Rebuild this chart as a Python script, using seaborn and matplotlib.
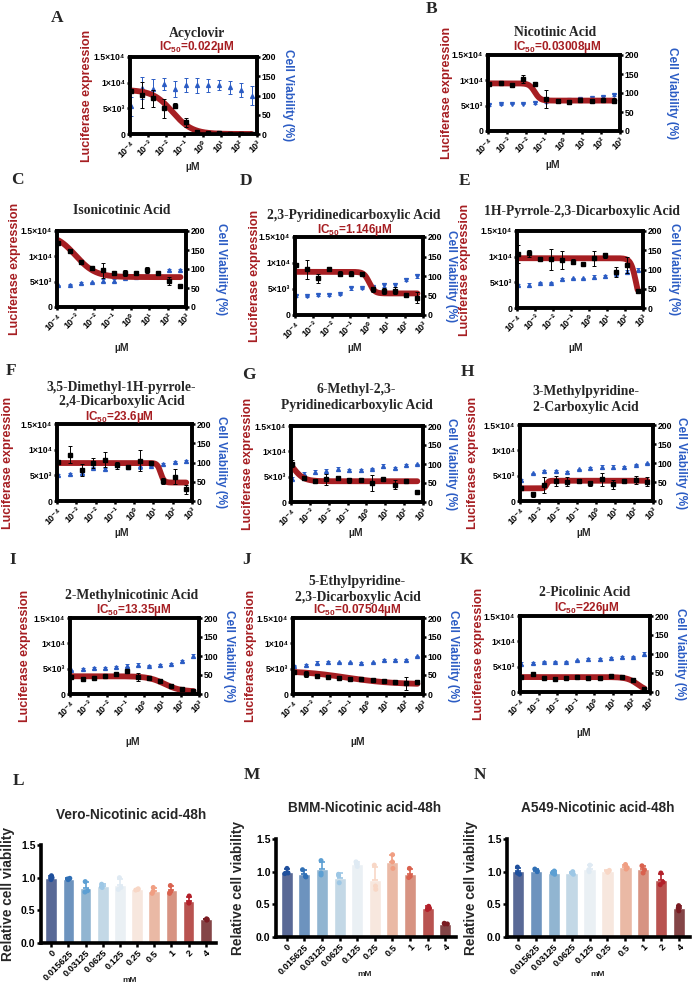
import numpy as np
import pandas as pd
import matplotlib
matplotlib.use("Agg")
import matplotlib.pyplot as plt
from matplotlib.ticker import NullLocator
import seaborn as sns

sns.set_theme(style="ticks")
plt.rcParams["font.family"] = ["Liberation Sans", "DejaVu Sans"]
plt.rcParams["font.weight"] = "bold"
plt.rcParams["mathtext.default"] = "regular"

W, H = 692, 986
RED = "#a61e22"
BLUE = "#2b5cc4"
SERIF = ["Liberation Serif", "DejaVu Serif"]

# dose-response: 4-fold dilution series (uM)
conc = [0.000119, 0.000477, 0.00191, 0.00763, 0.0305, 0.122, 0.488, 1.95, 7.81, 31.25, 125, 500]
x_ticks = [1e-4, 1e-3, 1e-2, 1e-1, 1e0, 1e1, 1e2, 1e3]
x_ticklabels = ["10⁻⁴", "10⁻³", "10⁻²", "10⁻¹", "10⁰", "10¹", "10²", "10³"]
luc_ticks = [0, 5000, 10000, 15000]
luc_ticklabels = ["0", "5×10³", "1×10⁴", "1.5×10⁴"]
via_ticks = [0, 50, 100, 150, 200]

titles = {
    "A": ["Acyclovir"], "B": ["Nicotinic Acid"], "C": ["Isonicotinic Acid"],
    "D": ["2,3-Pyridinedicarboxylic Acid"], "E": ["1H-Pyrrole-2,3-Dicarboxylic Acid"],
    "F": ["3,5-Dimethyl-1H-pyrrole-", "2,4-Dicarboxylic Acid"],
    "G": ["6-Methyl-2,3-", "Pyridinedicarboxylic Acid"],
    "H": ["3-Methylpyridine-", "2-Carboxylic Acid"],
    "I": ["2-Methylnicotinic Acid"],
    "J": ["5-Ethylpyridine-", "2,3-Dicarboxylic Acid"],
    "K": ["2-Picolinic Acid"],
}
ic50 = {"A": "0.022", "B": "0.03008", "D": "1.146", "F": "23.6", "I": "13.35", "J": "0.07504", "K": "226"}

luc_mean = {
    "A": [8400, 7600, 6950, 5000, 5470, 2250, 300, 150, 100, 50, 0, 0],
    "B": [9200, 9500, 9000, 10300, 9300, 6300, 6000, 5700, 6100, 6000, 6200, 6000],
    "C": [12700, 11060, 8940, 7750, 7280, 6620, 6620, 6620, 7280, 6750, 5100, 4170],
    "D": [9700, 8800, 7020, 8800, 7980, 7980, 7980, 4910, 4660, 4660, 3830, 3320],
    "E": [10500, 10630, 9460, 9460, 9330, 9000, 8480, 9650, 10300, 7050, 8350, 3330],
    "F": [7600, 9050, 6080, 7400, 8060, 6940, 6540, 7860, 7400, 3900, 4760, 2250],
    "G": [7570, 4800, 4080, 4470, 4740, 4280, 4280, 3750, 4600, 3420, 4080, 1970],
    "H": [2630, 1320, 3160, 3950, 3820, 3950, 3490, 4280, 3290, 3950, 4140, 3820],
    "I": [3400, 2900, 3200, 3500, 4000, 4500, 3300, 3200, 2600, 1600, 900, 500],
    "J": [4300, 3900, 3600, 3400, 3200, 3000, 2900, 2700, 2500, 2300, 2100, 2400],
    "K": [3000, 3470, 2800, 2530, 2670, 2870, 2670, 2700, 3130, 2870, 2400, 600],
}
luc_sd = {
    "A": [0, 2500, 1600, 1800, 500, 900, 100, 50, 50, 0, 0, 0],
    "B": [300, 300, 300, 800, 300, 1800, 300, 400, 300, 300, 400, 500],
    "C": [400, 300, 200, 400, 1500, 300, 600, 200, 600, 200, 800, 400],
    "D": [300, 1800, 900, 400, 400, 400, 200, 500, 600, 700, 200, 1100],
    "E": [1800, 700, 200, 2000, 1700, 500, 200, 1500, 500, 1000, 1500, 200],
    "F": [300, 1600, 1200, 900, 1400, 700, 200, 2100, 200, 500, 1500, 800],
    "G": [700, 300, 200, 1100, 300, 500, 200, 1500, 200, 900, 300, 100],
    "H": [400, 500, 1600, 1000, 900, 300, 500, 1300, 900, 300, 800, 900],
    "I": [300, 300, 200, 300, 200, 300, 800, 200, 300, 300, 200, 200],
    "J": [400, 600, 300, 200, 200, 200, 200, 300, 200, 200, 1300, 300],
    "K": [200, 300, 200, 200, 200, 200, 200, 200, 200, 200, 300, 200],
}
via_mean = {
    "A": [72, 120, 117, 130, 117, 128, 126, 126, 128, 121, 115, 100],
    "B": [68, 70, 72, 72, 74, 76, 80, 82, 84, 86, 90, 95],
    "C": [57, 59, 63, 65, 69, 69, 77, 80, 84, 88, 98, 98],
    "D": [48, 48, 51, 51, 53, 68, 68, 72, 77, 77, 91, 100],
    "E": [59, 59, 66, 66, 75, 77, 77, 81, 83, 90, 94, 100],
    "F": [68, 70, 72, 85, 84, 94, 88, 90, 92, 96, 101, 103],
    "G": [61, 75, 79, 81, 86, 83, 83, 88, 95, 90, 98, 99],
    "H": [55, 73, 79, 79, 77, 83, 86, 89, 89, 90, 96, 99],
    "I": [62, 66, 68, 68, 71, 75, 77, 75, 76, 79, 86, 99],
    "J": [75, 77, 82, 83, 83, 83, 82, 83, 89, 89, 90, 99],
    "K": [74, 77, 80, 80, 80, 83, 86, 86, 89, 92, 93, 100],
}
via_sd = {
    "A": [25, 28, 25, 15, 20, 18, 20, 18, 13, 16, 18, 25],
    "B": [2, 2, 2, 2, 2, 2, 2, 2, 2, 2, 2, 2],
    "C": [2, 2, 2, 2, 4, 4, 3, 3, 3, 3, 2, 2],
    "D": [3, 2, 2, 2, 2, 3, 2, 3, 6, 6, 3, 4],
    "E": [3, 5, 2, 2, 2, 2, 2, 5, 4, 6, 5, 3],
    "F": [2, 2, 3, 3, 3, 3, 2, 8, 2, 2, 2, 4],
    "G": [4, 3, 5, 5, 5, 3, 3, 2, 5, 2, 2, 2],
    "H": [3, 2, 2, 2, 2, 2, 3, 6, 6, 2, 2, 2],
    "I": [2, 2, 2, 2, 2, 4, 4, 2, 2, 2, 3, 5],
    "J": [2, 2, 4, 5, 2, 2, 2, 2, 3, 3, 2, 2],
    "K": [4, 2, 2, 2, 2, 2, 4, 4, 2, 2, 2, 4],
}
# four-parameter logistic fit: top, bottom, logIC50, hill
fit = {
    "A": (8600, 0, -1.658, 0.8), "B": (9400, 6000, -1.52, 3.0),
    "C": (14500, 5900, -3.0, 0.8), "D": (8300, 4150, 0.059, 3.0),
    "E": (9700, 0, 2.62, 3.0), "F": (7400, 3600, 1.373, 5.0),
    "G": (9500, 4100, -3.9, 1.5), "H": (2500, 4000, -2.6, 8.0),
    "I": (3500, 500, 1.125, 1.0), "J": (4600, 1900, -1.125, 0.35),
    "K": (2950, 0, 2.354, 1.5),
}
via_marker = {"A": "^", "B": "v", "C": "^", "D": "v", "E": "^", "F": "^",
              "G": "^", "H": "^", "I": "^", "J": "^", "K": "^"}

# cell viability bar charts
bar_conc = ["0", "0.015625", "0.03125", "0.0625", "0.125", "0.25", "0.5", "1", "2", "4"]
vero = [[1.03, 0.97, 1.00], [0.99, 0.97, 0.98], [0.94, 0.78, 0.80], [0.90, 0.85, 0.86],
        [1.00, 0.82, 0.85], [0.83, 0.81, 0.82], [0.85, 0.76, 0.79], [0.88, 0.76, 0.79],
        [0.72, 0.62, 0.61], [0.37, 0.36, 0.35]]
bmm = [[1.05, 0.98, 0.97], [1.03, 0.92, 0.93], [1.17, 0.98, 0.95], [0.96, 0.94, 0.83],
       [1.15, 1.12, 1.08], [1.10, 0.78, 0.73], [1.26, 1.15, 1.05], [1.05, 0.93, 0.91],
       [0.47, 0.44, 0.42], [0.21, 0.20, 0.20]]
a549 = [[1.07, 0.98, 0.96], [1.04, 1.01, 1.00], [1.01, 0.98, 0.96], [1.00, 0.98, 0.96],
        [1.10, 1.03, 1.00], [1.02, 1.00, 0.99], [1.11, 1.06, 1.04], [1.09, 1.03, 0.98],
        [0.98, 0.84, 0.80], [0.48, 0.44, 0.40]]
bar_colors = ["#4f64a0", "#5f92cc", "#86b6dc", "#bdd9ec", "#e8f0f6",
              "#fbe6da", "#f5b49a", "#e58a74", "#c9423f", "#8f3a3d"]
dot_colors = ["#1f4f9c", "#2f6fb5", "#5c9fd3", "#9dc7e5", "#dfeaf3",
              "#f8d7c6", "#f09e82", "#d9614e", "#b3202a", "#7a1b22"]

fig = plt.figure(figsize=(W / 100, H / 100), dpi=100)


def px_axes(box):
    x0, x1, yt, yb = box
    return fig.add_axes([x0 / W, 1 - yb / H, (x1 - x0) / W, (yb - yt) / H])


def ftext(x, y, s, **kw):
    fig.text(x / W, 1 - y / H, s, ha="center", va="center", **kw)


def dose_panel(key, box, letter_xy, title_xy, ic_xy, ylab_x, vlab_x, um_xy):
    ax = px_axes(box)
    ax2 = ax.twinx()
    ax.set_zorder(ax2.get_zorder() + 1)
    ax.patch.set_visible(False)

    ax2.errorbar(conc, via_mean[key], yerr=via_sd[key], fmt=via_marker[key], ms=2.8,
                 color=BLUE, ecolor=BLUE, elinewidth=0.7, capsize=1.4, capthick=0.7)

    top, bot, lic, h = fit[key]
    xs = np.logspace(np.log10(conc[0]), np.log10(conc[-1]), 300)
    ys = bot + (top - bot) / (1 + 10 ** ((np.log10(xs) - lic) * h))
    sns.lineplot(x=xs, y=ys, ax=ax, color=RED, lw=4.2, zorder=2)
    ax.errorbar(conc, luc_mean[key], yerr=luc_sd[key], fmt="s", ms=2.3, color="black",
                elinewidth=0.7, capsize=1.4, capthick=0.7, zorder=3)

    ax.set_xscale("log")
    ax.set_xlim(1e-4, 1e3)
    ax.set_ylim(0, 15000)
    ax2.set_ylim(0, 200)
    ax.set_xticks(x_ticks)
    ax.xaxis.set_minor_locator(NullLocator())
    ax.set_xticklabels(x_ticklabels, rotation=45, ha="right", rotation_mode="anchor", fontsize=6.5)
    ax.set_yticks(luc_ticks)
    ax.set_yticklabels(luc_ticklabels, fontsize=6.2)
    ax2.set_yticks(via_ticks)
    ax2.set_yticklabels([str(v) for v in via_ticks], fontsize=6.2)
    ax.set_xlabel("")
    ax.set_ylabel("")
    for a in (ax, ax2):
        for sp in a.spines.values():
            sp.set_linewidth(2.6)
            sp.set_color("black")
        a.tick_params(direction="out", length=2.5, width=1.8, pad=1, colors="black")

    cy = (box[2] + box[3]) / 2
    ftext(ylab_x, cy, "Luciferase expression", rotation=90, color=RED, fontsize=9)
    ftext(vlab_x, cy, "Cell Viability (%)", rotation=270, color=BLUE, fontsize=8.5)
    ftext(*um_xy, "µM", fontsize=7.5)
    ftext(*letter_xy, key, family=SERIF, fontsize=12.5)
    for (tx, ty), line in zip(title_xy, titles[key]):
        ftext(tx, ty, line, family=SERIF, fontsize=9.8)
    if key in ic50:
        ftext(*ic_xy, "IC$_{50}$=" + ic50[key] + "µM", color=RED, fontsize=8.5)


layout = {
    "A": ((130, 257, 57, 134), (57, 18), [(197, 33)], (197, 47), 87, 288, (193, 167)),
    "B": ((488, 620, 55, 131), (432, 9), [(555, 33)], (557, 47), 447, 672, (553, 165)),
    "C": ((57, 186, 231, 307), (17, 180), [(122, 210)], None, 15, 221, (122, 348)),
    "D": ((295, 423, 237, 315), (246, 181), [(354, 215)], (355, 230), 255, 451, (355, 348)),
    "E": ((517, 643, 231, 308), (465, 181), [(582, 212)], None, 465, 674, (576, 348)),
    "F": ((57, 192, 424, 501), (11, 371), [(121, 388), (122, 402)], (119, 417), 8, 221, (122, 533)),
    "G": ((291, 423, 426, 502), (249, 375), [(356, 390), (357, 406)], None, 248, 451, (356, 533)),
    "H": ((520, 653, 425, 501), (467, 372), [(586, 392), (586, 408)], None, 473, 681, (584, 533)),
    "I": ((70, 199, 618, 694), (13, 560), [(132, 596)], (134, 610), 25, 229, (133, 742)),
    "J": ((293, 423, 618, 694), (247, 560), [(357, 582), (358, 597)], (357, 610), 251, 453, (358, 742)),
    "K": ((520, 650, 616, 692), (466, 560), [(585, 592)], (587, 608), 479, 680, (584, 733)),
}
for k, args in layout.items():
    dose_panel(k, *args)


def bar_panel(reps, box, letter, letter_xy, title, title_xy, ylab_x, mm_xy):
    ax = px_axes(box)
    df = pd.DataFrame([(c, v) for c, vals in zip(bar_conc, reps) for v in vals],
                      columns=["conc", "value"])
    sns.barplot(data=df, x="conc", y="value", hue="conc", order=bar_conc, hue_order=bar_conc,
                palette=bar_colors, errorbar=None, width=0.68, legend=False, ax=ax, zorder=1)
    stats = df.groupby("conc", sort=False)["value"].agg(["mean", "std"]).reindex(bar_conc)
    for i, c in enumerate(bar_conc):
        ax.errorbar(i, stats.loc[c, "mean"], yerr=[[0], [stats.loc[c, "std"]]], color=dot_colors[i],
                    capsize=2.5, elinewidth=1.2, capthick=1.2, zorder=3)
    sns.stripplot(data=df, x="conc", y="value", hue="conc", order=bar_conc, hue_order=bar_conc,
                  palette=dot_colors, jitter=0.12, size=3.6, legend=False, ax=ax, zorder=4)
    ax.set_ylim(0, 1.5)
    ax.set_xlim(-0.6, 9.6)
    ax.set_yticks([0, 0.5, 1.0, 1.5])
    ax.set_yticklabels(["0.0", "0.5", "1.0", "1.5"], fontsize=7.5)
    ax.set_xticks(range(len(bar_conc)))
    ax.set_xticklabels(bar_conc, rotation=45, ha="right", rotation_mode="anchor", fontsize=6.6)
    ax.set_xlabel("")
    ax.set_ylabel("")
    sns.despine(ax=ax)
    for sp in ("left", "bottom"):
        ax.spines[sp].set_linewidth(2.6)
        ax.spines[sp].set_color("black")
    ax.tick_params(direction="out", length=3, width=1.8, pad=1, colors="black")
    cy = (box[2] + box[3]) / 2
    ftext(ylab_x, cy, "Relative cell viability", rotation=90, fontsize=9.8)
    ftext(*title_xy, title, fontsize=9.8)
    ftext(*mm_xy, "mM", fontsize=6)
    ftext(*letter_xy, letter, family=SERIF, fontsize=12.5)


bar_panel(vero, (41, 216, 845, 943), "L", (18, 781), "Vero-Nicotinic acid-48h", (131, 815), 8, (130, 981))
bar_panel(bmm, (276, 456, 839, 937), "M", (252, 775), "BMM-Nicotinic acid-48h", (365, 808), 238, (365, 975))
bar_panel(a549, (507, 690, 839, 937), "N", (480, 775), "A549-Nicotinic acid-48h", (598, 808), 471, (598, 975))

fig.savefig("out.png", dpi=100, facecolor="white")
